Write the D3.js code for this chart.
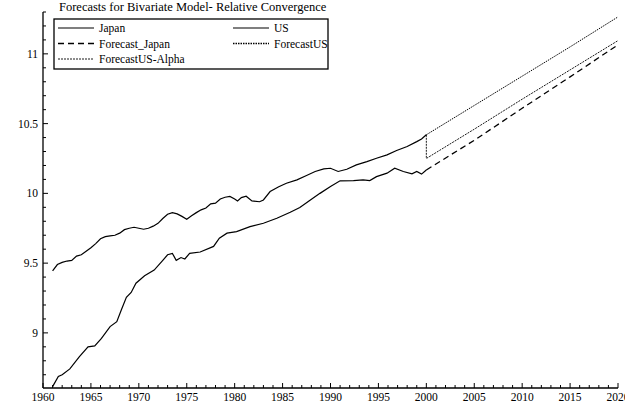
<!DOCTYPE html>
<html>
<head>
<meta charset="utf-8">
<script src="https://cdn.jsdelivr.net/npm/d3@7"></script>
<style>
    body { margin: 0; background: #fff; }
    text { font-family: "Liberation Serif", "Times New Roman", "DejaVu Serif", serif; fill: #000; }
</style>
</head>
<body>
<svg id="mysvg"></svg>
<script>
// Data ---->
var usYears = [1961, 1961.5, 1962, 1962.5, 1963, 1963.5, 1964, 1964.5, 1965, 1965.5,
    1966, 1966.5, 1967, 1967.5, 1968, 1968.5, 1969, 1969.5, 1970, 1970.5,
    1971, 1971.5, 1972, 1972.5, 1973, 1973.5, 1974, 1974.5, 1975, 1975.5,
    1976, 1976.5, 1977, 1977.5, 1978, 1978.5, 1979, 1979.5, 1980, 1980.3,
    1980.7, 1981.2, 1981.8, 1982.6, 1983, 1983.7, 1984.6, 1985.4, 1986.5, 1987.5,
    1988.4, 1989.3, 1990, 1990.8, 1991.7, 1992.7, 1993.8, 1994.8, 1995.9, 1996.9,
    1998, 1999, 1999.5, 2000];
var usValues = [9.445, 9.49, 9.505, 9.515, 9.52, 9.55, 9.56, 9.585, 9.61, 9.64,
    9.675, 9.69, 9.695, 9.70, 9.715, 9.74, 9.75, 9.757, 9.75, 9.743,
    9.75, 9.765, 9.785, 9.82, 9.85, 9.862, 9.853, 9.835, 9.815, 9.84,
    9.862, 9.882, 9.895, 9.925, 9.93, 9.96, 9.972, 9.978, 9.96, 9.946,
    9.97, 9.98, 9.946, 9.94, 9.953, 10.013, 10.047, 10.073, 10.097, 10.128,
    10.157, 10.176, 10.18, 10.157, 10.173, 10.204, 10.228, 10.252, 10.276, 10.307,
    10.336, 10.371, 10.39, 10.42];

var japanYears = [1961, 1961.6, 1962, 1962.8, 1963.8, 1964.7, 1965.4, 1966.1, 1967, 1967.7,
    1968.2, 1968.7, 1969.2, 1969.7, 1970.6, 1971.6, 1972.5, 1973, 1973.5, 1973.9,
    1974.4, 1974.8, 1975.3, 1976.4, 1977.8, 1978.4, 1979.2, 1980.2, 1981.6, 1983,
    1984.4, 1985.8, 1986.8, 1987.9, 1988.9, 1990, 1991, 1992.4, 1993.4, 1994.1,
    1994.8, 1995.9, 1996.7, 1997.6, 1998.5, 1999, 1999.5, 2000];
var japanValues = [8.615, 8.687, 8.70, 8.742, 8.83, 8.90, 8.907, 8.96, 9.045, 9.08,
    9.17, 9.255, 9.29, 9.356, 9.41, 9.45, 9.52, 9.56, 9.57, 9.52,
    9.54, 9.53, 9.57, 9.58, 9.62, 9.679, 9.715, 9.726, 9.762, 9.786,
    9.822, 9.865, 9.898, 9.953, 10.0, 10.049, 10.09, 10.092, 10.097, 10.092,
    10.12, 10.145, 10.18, 10.157, 10.14, 10.157, 10.138, 10.168];

var forecastYears = [2000, 2005, 2010, 2015, 2020];
var forecastJapan = [10.168, 10.38, 10.61, 10.835, 11.065];
var forecastUS = [10.42, 10.63, 10.84, 11.05, 11.265];
var alphaYears = [2000, 2000, 2005, 2010, 2015, 2020];
var forecastUSAlpha = [10.42, 10.25, 10.46, 10.675, 10.885, 11.095];

var xTickLabels = [1960, 1965, 1970, 1975, 1980, 1985, 1990, 1995, 2000, 2005, 2010, 2015, 2020];
var yTickLabels = [9, 9.5, 10, 10.5, 11];
var legendLabels = ["Japan", "US", "Forecast_Japan", "ForecastUS", "ForecastUS-Alpha"];
// <---- Data

var WIDTH = 625, HEIGHT = 412;
var mysvg = d3.select("#mysvg")
    .attr("width", WIDTH)
    .attr("height", HEIGHT);

var x = d3.scaleLinear().domain([1960, 2020]).range([43, 618]);
var y = d3.scaleLinear().domain([8.605, 11.3]).range([388, 12]);

// Axes ---->
var xAxis = mysvg.append("g").attr("transform", "translate(0,388)");
xAxis.append("line")
    .attr("x1", x(1960)).attr("x2", x(2020))
    .attr("stroke", "#000").attr("stroke-width", 1.3);
xAxis.selectAll("line.tick")
    .data(d3.range(1960, 2021))
    .enter().append("line")
    .attr("class", "tick")
    .attr("x1", function(d) { return x(d); })
    .attr("x2", function(d) { return x(d); })
    .attr("y1", 0)
    .attr("y2", function(d) { return d % 5 === 0 ? -5 : -3; })
    .attr("stroke", "#000").attr("stroke-width", 1);
xAxis.selectAll("text")
    .data(xTickLabels)
    .enter().append("text")
    .attr("x", function(d) { return x(d); })
    .attr("y", 13)
    .attr("text-anchor", "middle")
    .style("font-size", "11.5px")
    .text(function(d) { return d; });

var yAxis = mysvg.append("g").attr("transform", "translate(43,0)");
yAxis.append("line")
    .attr("y1", y(8.605)).attr("y2", y(11.3))
    .attr("stroke", "#000").attr("stroke-width", 1.3);
yAxis.selectAll("line.tick")
    .data(d3.range(87, 114).map(function(d) { return d / 10; }))
    .enter().append("line")
    .attr("class", "tick")
    .attr("y1", function(d) { return y(d); })
    .attr("y2", function(d) { return y(d); })
    .attr("x1", 0)
    .attr("x2", function(d) { return Math.round(d * 10) % 5 === 0 ? 5 : 3; })
    .attr("stroke", "#000").attr("stroke-width", 1);
yAxis.selectAll("text")
    .data(yTickLabels)
    .enter().append("text")
    .attr("x", -5)
    .attr("y", function(d) { return y(d) + 4; })
    .attr("text-anchor", "end")
    .style("font-size", "11.5px")
    .text(function(d) { return d; });
// <---- Axes

// Lines ---->
var line = d3.line()
    .x(function(d) { return x(d[0]); })
    .y(function(d) { return y(d[1]); });

function zip(a, b) {
    return a.map(function(d, i) { return [d, b[i]]; });
}

var series = [
    {pts: zip(usYears, usValues), dash: null, w: 1.2},
    {pts: zip(japanYears, japanValues), dash: null, w: 1.2},
    {pts: zip(forecastYears, forecastJapan), dash: "6,4", w: 1.3},
    {pts: zip(forecastYears, forecastUS), dash: "1.5,1", w: 1},
    {pts: zip(alphaYears, forecastUSAlpha), dash: "2,1", w: 0.9}
];
series.forEach(function(s) {
    mysvg.append("path")
        .attr("d", line(s.pts))
        .attr("fill", "none")
        .attr("stroke", "#000")
        .attr("stroke-width", s.w)
        .attr("stroke-dasharray", s.dash);
});
// <---- Lines

// Title + legend ---->
mysvg.append("text")
    .attr("x", 59).attr("y", 11)
    .style("font-size", "12.5px")
    .text("Forecasts for Bivariate Model- Relative Convergence");

var legend = mysvg.append("g");
legend.append("rect")
    .attr("x", 54).attr("y", 19).attr("width", 274).attr("height", 50)
    .attr("fill", "#fff").attr("stroke", "#000").attr("stroke-width", 1.3);

var legendStyles = [
    {dash: null, w: 1.2}, {dash: null, w: 1.2}, {dash: "6,4", w: 1.6},
    {dash: "1.5,1", w: 1.3}, {dash: "2,1", w: 0.9}
];
legendLabels.forEach(function(lbl, i) {
    var col = i % 2, row = Math.floor(i / 2);
    var lx = col === 0 ? 58 : 233;
    var ly = 28 + row * 15.5;
    legend.append("line")
        .attr("x1", lx).attr("x2", lx + 36)
        .attr("y1", ly).attr("y2", ly)
        .attr("stroke", "#000")
        .attr("stroke-width", legendStyles[i].w)
        .attr("stroke-dasharray", legendStyles[i].dash);
    legend.append("text")
        .attr("x", lx + 41).attr("y", ly + 4)
        .style("font-size", "11.5px")
        .text(lbl);
});
// <---- Title + legend
</script>
</body>
</html>
